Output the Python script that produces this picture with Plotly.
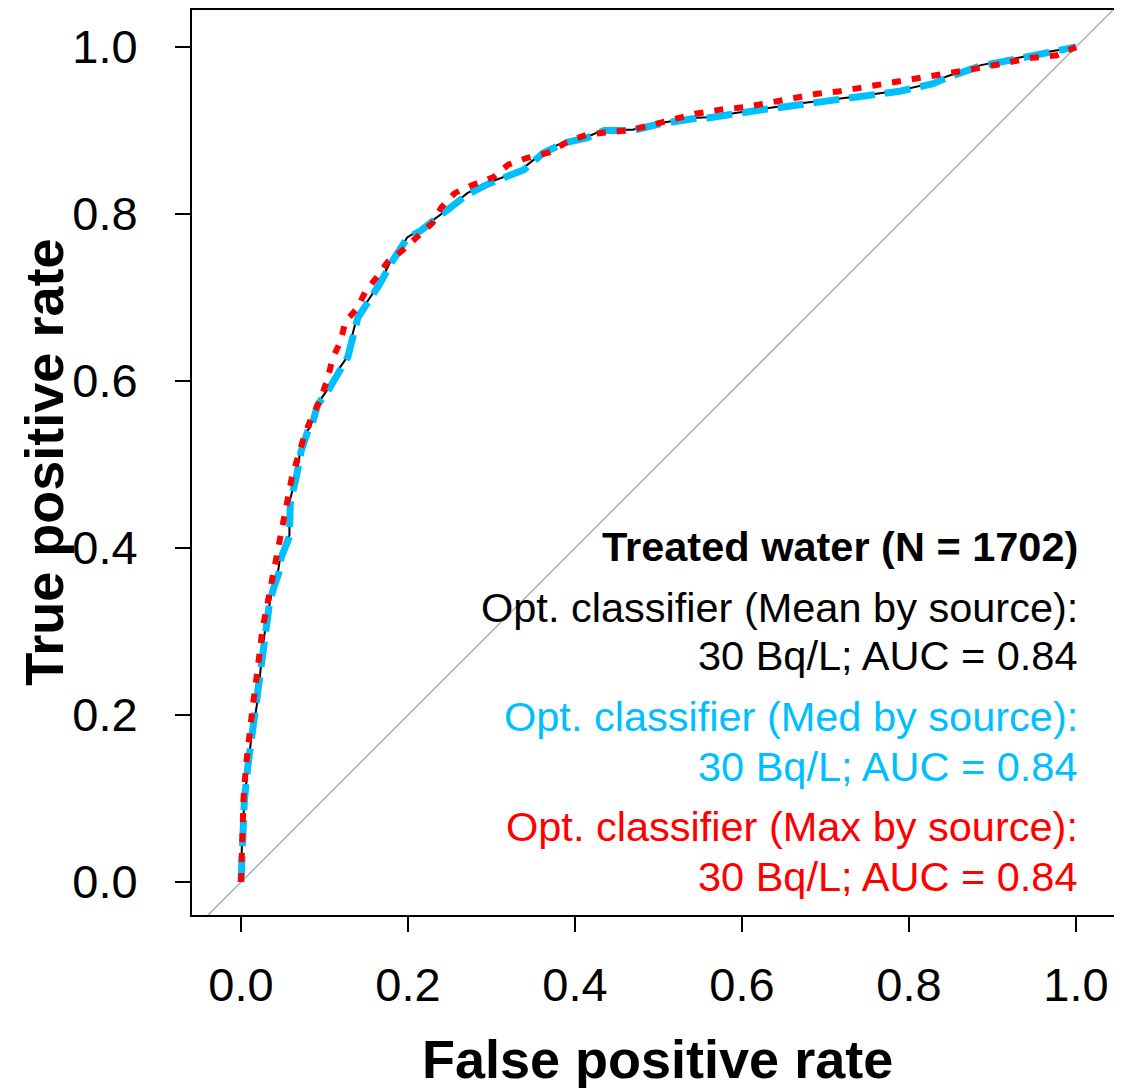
import plotly.graph_objects as go

# ---- data ----
fpr_mean = [0, 0.001, 0.004, 0.008, 0.012, 0.016, 0.020, 0.023, 0.026, 0.030, 0.034, 0.038, 0.044, 0.047,
            0.052, 0.058, 0.058, 0.062, 0.067, 0.071, 0.080, 0.083, 0.092, 0.103, 0.119, 0.128, 0.131, 0.139,
            0.154, 0.166, 0.178, 0.190, 0.199, 0.214, 0.247, 0.271, 0.295, 0.322, 0.338, 0.362, 0.386, 0.414,
            0.434, 0.469, 0.502, 0.541, 0.558, 0.618, 0.673, 0.733, 0.789, 0.829, 0.846, 0.885, 0.937, 0.965,
            0.996, 1.0]
tpr_mean = [0, 0.042, 0.098, 0.138, 0.170, 0.194, 0.218, 0.250, 0.281, 0.310, 0.334, 0.353, 0.370, 0.389,
            0.405, 0.415, 0.455, 0.470, 0.490, 0.517, 0.541, 0.545, 0.573, 0.589, 0.617, 0.630, 0.646, 0.677,
            0.700, 0.717, 0.741, 0.757, 0.772, 0.781, 0.805, 0.825, 0.837, 0.847, 0.855, 0.874, 0.886, 0.892,
            0.901, 0.901, 0.909, 0.915, 0.916, 0.925, 0.933, 0.940, 0.948, 0.957, 0.965, 0.978, 0.988, 0.994,
            0.999, 1.0]

fpr_med = [0, 0.001, 0.004, 0.008, 0.012, 0.016, 0.020, 0.023, 0.026, 0.030, 0.034, 0.039, 0.045, 0.048,
           0.053, 0.058, 0.059, 0.063, 0.067, 0.072, 0.080, 0.084, 0.092, 0.104, 0.120, 0.128, 0.132, 0.140,
           0.155, 0.166, 0.179, 0.190, 0.199, 0.215, 0.247, 0.272, 0.296, 0.322, 0.339, 0.362, 0.387, 0.414,
           0.435, 0.469, 0.502, 0.541, 0.559, 0.618, 0.673, 0.733, 0.789, 0.829, 0.847, 0.885, 0.937, 0.965,
           0.996, 1.0]
tpr_med = [0, 0.041, 0.097, 0.137, 0.169, 0.193, 0.217, 0.249, 0.280, 0.309, 0.333, 0.352, 0.369, 0.388,
           0.404, 0.414, 0.454, 0.469, 0.489, 0.516, 0.540, 0.544, 0.572, 0.588, 0.616, 0.629, 0.645, 0.676,
           0.699, 0.716, 0.740, 0.756, 0.771, 0.780, 0.804, 0.824, 0.836, 0.845, 0.853, 0.873, 0.885, 0.891,
           0.900, 0.900, 0.908, 0.914, 0.915, 0.924, 0.932, 0.939, 0.947, 0.956, 0.964, 0.977, 0.987, 0.993,
           0.999, 1.0]

fpr_max = [0, 0.001, 0.003, 0.006, 0.010, 0.014, 0.018, 0.022, 0.026, 0.031, 0.036, 0.041, 0.050, 0.056,
           0.061, 0.070, 0.077, 0.086, 0.095, 0.104, 0.110, 0.119, 0.125, 0.139, 0.149, 0.163, 0.176, 0.194,
           0.211, 0.229, 0.240, 0.256, 0.278, 0.302, 0.320, 0.342, 0.370, 0.390, 0.414, 0.442, 0.469, 0.493,
           0.520, 0.544, 0.574, 0.604, 0.631, 0.661, 0.690, 0.717, 0.745, 0.775, 0.804, 0.833, 0.861, 0.891,
           0.919, 0.947, 0.977, 1.0]
tpr_max = [0, 0.045, 0.100, 0.140, 0.180, 0.210, 0.240, 0.275, 0.305, 0.330, 0.355, 0.382, 0.433, 0.460,
           0.485, 0.515, 0.538, 0.560, 0.577, 0.604, 0.628, 0.647, 0.671, 0.687, 0.707, 0.725, 0.743, 0.757,
           0.772, 0.789, 0.808, 0.825, 0.835, 0.844, 0.859, 0.867, 0.874, 0.886, 0.895, 0.898, 0.901, 0.907,
           0.914, 0.920, 0.925, 0.928, 0.933, 0.939, 0.944, 0.947, 0.952, 0.957, 0.962, 0.967, 0.971, 0.976,
           0.981, 0.987, 0.990, 1.0]

diag_ref = [-0.2, 1.2]

tick_vals = [0.0, 0.2, 0.4, 0.6, 0.8, 1.0]
tick_labels = ["0.0", "0.2", "0.4", "0.6", "0.8", "1.0"]

legend_lines = [
    ("<b>Treated water (N = 1702)</b>", "#000000", 0.402),
    ("Opt. classifier (Mean by source):", "#000000", 0.329),
    ("30 Bq/L; AUC = 0.84", "#000000", 0.271),
    ("Opt. classifier (Med by source):", "#00BFFF", 0.198),
    ("30 Bq/L; AUC = 0.84", "#00BFFF", 0.138),
    ("Opt. classifier (Max by source):", "#FF0000", 0.066),
    ("30 Bq/L; AUC = 0.84", "#FF0000", 0.007),
]

FONT = "Liberation Sans, Arial, sans-serif"

fig = go.Figure()
fig.add_trace(go.Scatter(x=diag_ref, y=diag_ref, mode="lines",
                         line=dict(color="#b3b3b3", width=1.6), hoverinfo="skip"))
fig.add_trace(go.Scatter(x=fpr_mean, y=tpr_mean, mode="lines",
                         line=dict(color="#000000", width=2), name="Mean"))
fig.add_trace(go.Scatter(x=fpr_med, y=tpr_med, mode="lines",
                         line=dict(color="#00BFFF", width=7, dash="26px,10px"), name="Med"))
fig.add_trace(go.Scatter(x=fpr_max, y=tpr_max, mode="lines",
                         line=dict(color="#FF0000", width=6, dash="9px,11px"), name="Max"))

annotations = []
for text, color, yv in legend_lines:
    annotations.append(dict(x=1.005, y=yv, xref="x", yref="y", text=text, showarrow=False,
                            xanchor="right", yanchor="middle",
                            font=dict(family=FONT, size=41.5, color=color)))
annotations.append(dict(x=0.5, y=-0.159, xref="paper", yref="paper",
                        text="<b>False positive rate</b>", showarrow=False,
                        xanchor="center", yanchor="middle",
                        font=dict(family=FONT, size=54, color="black")))
annotations.append(dict(x=-0.16, y=0.5, xref="paper", yref="paper",
                        text="<b>True positive rate</b>", showarrow=False, textangle=-90,
                        xanchor="center", yanchor="middle",
                        font=dict(family=FONT, size=54, color="black")))

fig.update_layout(
    width=1114, height=1080,
    margin=dict(l=184, r=0, t=2, b=173),
    paper_bgcolor="white", plot_bgcolor="white",
    showlegend=False,
    annotations=annotations,
    xaxis=dict(range=[-0.0587, 1.0551], tickvals=tick_vals, ticktext=tick_labels,
               ticks="outside", ticklen=15, tickwidth=2, tickcolor="black",
               showline=True, linewidth=2, linecolor="black", mirror=True,
               showgrid=False, zeroline=False, ticklabelstandoff=13,
               tickfont=dict(family=FONT, size=47, color="black")),
    yaxis=dict(range=[-0.0395, 1.0443], tickvals=tick_vals, ticktext=tick_labels,
               ticks="outside", ticklen=15, tickwidth=2, tickcolor="black",
               showline=True, linewidth=2, linecolor="black", mirror=False,
               showgrid=False, zeroline=False, ticklabelstandoff=28,
               tickfont=dict(family=FONT, size=47, color="black")),
)

fig.write_html("out.html")
